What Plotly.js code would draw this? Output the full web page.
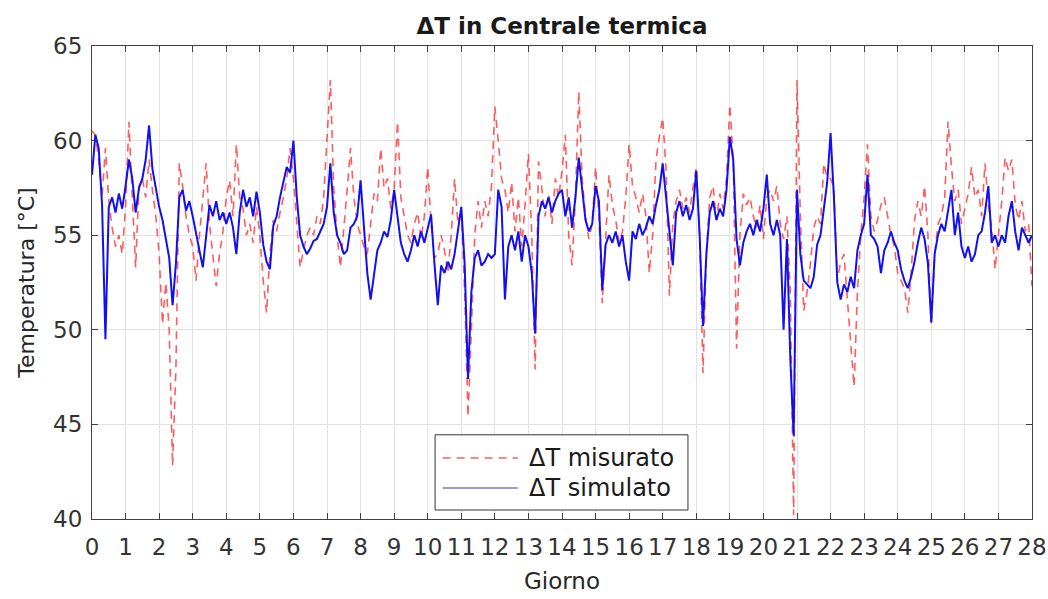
<!DOCTYPE html>
<html>
<head>
<meta charset="utf-8">
<script src="https://cdn.plot.ly/plotly-3.0.1.min.js"></script>
<style>html,body{margin:0;padding:0;background:#fff;}#chart{width:1048px;height:599px;}</style>
</head>
<body>
<div id="chart"></div>
<script>
// Sampling step (days) of the read-off series
const step = 0.1;
const xTicks = [0,1,2,3,4,5,6,7,8,9,10,11,12,13,14,15,16,17,18,19,20,21,22,23,24,25,26,27,28];
const yTicks = [40,45,50,55,60,65];
const seriesNames = ['ΔT misurato', 'ΔT simulato'];

// ΔT misurato (red dashed)
const misurato = [
60.5,60.3,59.0,57.0,59.6,56.8,55.4,54.4,55.0,54.0,
56.5,61.0,57.0,53.3,57.6,58.0,57.0,59.0,57.4,56.0,
54.0,50.3,52.5,50.0,42.8,48.0,58.8,57.6,56.0,55.0,
54.4,52.6,55.0,57.0,58.8,55.6,53.8,52.3,54.0,55.2,
57.0,57.9,56.0,59.8,57.0,56.4,55.0,55.6,54.6,56.5,
55.0,52.6,50.9,54.0,55.8,55.2,56.2,57.0,58.0,59.6,
58.0,55.6,53.3,54.2,55.0,55.4,55.0,56.0,55.6,57.0,
60.0,63.2,57.5,55.0,53.3,55.6,57.4,59.6,57.0,55.6,
55.0,54.4,54.0,55.6,57.2,56.8,59.6,57.5,58.0,56.4,
57.4,61.0,57.0,56.0,55.0,54.6,55.6,56.2,54.8,56.0,
58.6,55.6,53.8,54.0,55.0,54.2,53.0,55.0,58.0,55.6,
56.4,52.0,45.4,50.0,55.0,56.8,55.4,56.8,56.0,57.6,
61.8,60.0,58.0,57.4,56.2,57.8,55.2,57.0,54.4,56.6,
59.3,55.0,47.9,58.9,57.4,56.0,57.2,55.6,58.0,57.0,
58.4,60.3,55.0,53.4,57.0,62.6,58.0,56.0,54.8,55.6,
58.6,56.0,51.4,55.0,58.2,56.6,55.8,54.6,55.2,57.0,
59.8,57.6,57.0,56.2,57.2,56.0,53.0,55.0,59.0,60.2,
61.2,58.5,51.8,55.6,56.8,57.4,56.4,57.0,56.2,57.5,
58.6,55.0,47.7,54.0,57.0,57.6,55.8,57.2,56.4,58.0,
61.9,59.0,49.0,55.0,57.2,56.6,57.0,56.0,55.4,56.6,
54.8,57.0,57.4,56.8,57.6,55.6,54.8,56.0,52.0,40.2,
63.2,56.0,51.0,52.0,53.5,55.4,56.0,55.6,58.8,58.0,
58.0,57.5,52.6,53.6,54.0,51.6,49.5,47.0,52.0,55.0,
57.0,59.8,56.0,55.2,55.8,56.6,57.0,56.0,55.0,54.4,
53.0,52.6,52.2,50.9,53.0,55.8,56.8,56.0,57.6,55.0,
50.2,54.0,55.6,56.0,57.0,61.0,58.6,56.8,57.4,55.6,
56.4,57.2,58.6,57.0,57.4,56.0,58.8,56.6,55.4,53.2,
55.0,56.8,59.1,58.4,59.0,56.6,55.8,56.8,55.2,55.6,
52.3
];

// ΔT simulato (blue solid)
const simulato = [
58.2,60.3,59.6,56.6,49.5,56.5,57.0,56.2,57.2,56.4,
57.6,59.0,58.0,56.2,57.5,58.0,59.0,60.8,58.5,57.5,
56.5,55.8,54.8,53.8,51.3,53.5,57.0,57.4,56.3,56.8,
56.0,55.0,54.2,53.3,55.0,56.6,56.0,56.8,55.8,56.2,
55.6,56.2,55.4,54.0,56.2,57.4,56.5,57.0,56.0,57.3,
56.2,54.5,53.6,53.2,55.5,56.0,57.0,57.8,58.6,58.3,
60.0,57.0,55.0,54.4,54.0,54.3,54.7,54.8,55.2,55.6,
56.5,58.8,56.2,55.0,54.6,54.0,54.2,55.4,55.6,56.0,
57.9,55.6,53.0,51.6,53.0,54.2,54.6,55.2,54.9,55.8,
57.4,56.0,54.6,54.0,53.6,54.2,55.0,54.4,55.2,54.6,
55.4,56.1,53.5,51.3,53.4,53.0,53.6,53.2,54.0,55.4,
56.5,53.5,47.4,52.0,53.8,54.2,53.4,53.6,54.0,53.8,
54.0,57.4,56.5,51.6,54.4,55.0,54.2,55.2,53.6,55.0,
54.4,53.0,49.8,56.0,56.8,56.4,57.0,56.2,56.8,57.2,
57.4,56.0,57.0,55.4,57.0,59.1,57.4,55.8,55.2,55.6,
57.6,56.8,52.1,54.5,55.0,54.6,55.2,54.4,55.0,53.6,
52.6,55.2,54.8,55.6,55.0,55.4,56.0,55.6,56.6,57.4,
58.8,57.0,54.8,53.4,56.2,56.8,56.0,56.6,55.8,56.4,
58.4,55.0,50.2,54.0,56.2,56.8,55.8,56.4,56.0,57.4,
60.2,59.0,54.8,53.4,54.6,55.2,55.6,55.0,55.8,55.2,
56.4,58.2,55.6,55.0,55.8,55.0,50.0,54.8,48.5,44.4,
57.4,54.0,52.6,52.4,52.2,52.8,54.5,55.0,56.5,57.8,
60.4,57.0,52.5,51.6,52.4,52.0,52.8,52.2,54.2,55.0,
55.6,58.2,55.0,54.8,54.4,53.0,54.2,54.6,55.2,54.6,
54.2,53.2,52.6,52.2,52.8,53.6,54.6,55.4,54.8,53.5,
50.4,54.0,55.0,55.6,55.2,56.4,57.4,55.0,56.2,54.4,
53.8,54.4,53.6,54.0,55.0,55.2,56.2,57.6,54.6,55.0,
54.4,55.0,54.6,56.0,56.8,55.2,54.2,55.4,55.0,54.6,
55.0
];

const days = misurato.map((_, i) => +(i * step).toFixed(2));

const fontFam = '"DejaVu Sans", Verdana, sans-serif';
const txtCol = '#262626';
const redLine = {color: 'rgba(255,30,30,0.72)', width: 1.6, dash: '8px,6px'};
const blueLine = {color: '#1010f2', width: 2.0};

const traces = [
  {x: days, y: misurato, type: 'scatter', mode: 'lines', name: seriesNames[0], line: redLine},
  {x: days, y: simulato, type: 'scatter', mode: 'lines', name: seriesNames[1], line: blueLine}
];

const axisCommon = {
  showline: true, mirror: 'ticks', linecolor: '#404040', linewidth: 1,
  ticks: 'inside', ticklen: 6, tickcolor: '#404040', tickwidth: 1,
  showgrid: true, gridcolor: '#e2e2e2', gridwidth: 1,
  zeroline: false,
  tickfont: {family: fontFam, size: 23, color: '#333333'}
};

// Legend box drawn in paper coordinates (MATLAB-style legend)
const lg = {x0: 0.365, x1: 0.634, y0: 0.019, y1: 0.178, lx0: 0.373, lx1: 0.453, tx: 0.463, yr: 0.129, yb: 0.0655};

const layout = {
  width: 1048, height: 599,
  paper_bgcolor: '#ffffff', plot_bgcolor: '#ffffff',
  margin: {l: 92, r: 16, t: 46, b: 80},
  showlegend: false,
  title: {
    text: '<b>ΔT in Centrale termica</b>',
    font: {family: fontFam, size: 23, color: '#1a1a1a'},
    x: 0.5, xref: 'paper', xanchor: 'center',
    y: 1, yref: 'paper', yanchor: 'bottom', pad: {b: 12}
  },
  xaxis: Object.assign({}, axisCommon, {
    range: [0, 28], tickmode: 'array', tickvals: xTicks,
    ticktext: xTicks.map(String), ticklabelstandoff: 7,
    title: {text: 'Giorno', font: {family: fontFam, size: 23, color: txtCol}, standoff: 14}
  }),
  yaxis: Object.assign({}, axisCommon, {
    range: [40, 65], tickmode: 'array', tickvals: yTicks,
    ticktext: yTicks.map(String), ticklabelstandoff: 4,
    title: {text: 'Temperatura [°C]', font: {family: fontFam, size: 22, color: txtCol}, standoff: 12}
  }),
  shapes: [
    {type: 'rect', xref: 'paper', yref: 'paper', x0: lg.x0, x1: lg.x1, y0: lg.y0, y1: lg.y1,
     fillcolor: '#ffffff', line: {color: '#333333', width: 1}, layer: 'above'},
    {type: 'line', xref: 'paper', yref: 'paper', x0: lg.lx0, x1: lg.lx1, y0: lg.yr, y1: lg.yr,
     line: redLine, layer: 'above'},
    {type: 'line', xref: 'paper', yref: 'paper', x0: lg.lx0, x1: lg.lx1, y0: lg.yb, y1: lg.yb,
     line: {color: '#3030f0', width: 1.2}, layer: 'above'}
  ],
  annotations: [
    {xref: 'paper', yref: 'paper', x: lg.tx, y: lg.yr, xanchor: 'left', yanchor: 'middle',
     text: seriesNames[0], showarrow: false, font: {family: fontFam, size: 24, color: '#1a1a1a'}},
    {xref: 'paper', yref: 'paper', x: lg.tx, y: lg.yb, xanchor: 'left', yanchor: 'middle',
     text: seriesNames[1], showarrow: false, font: {family: fontFam, size: 24, color: '#1a1a1a'}}
  ]
};

Plotly.newPlot('chart', traces, layout, {displayModeBar: false, staticPlot: true});
</script>
</body>
</html>
